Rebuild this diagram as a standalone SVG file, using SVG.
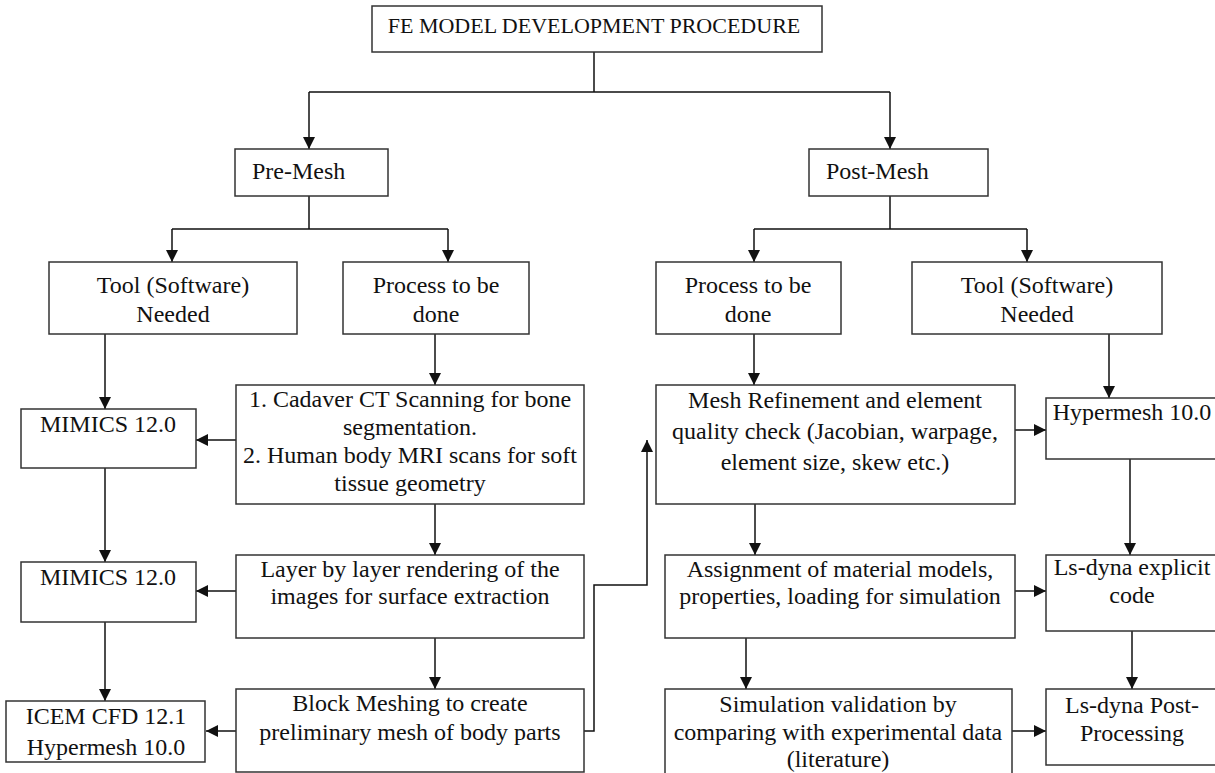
<svg xmlns="http://www.w3.org/2000/svg" width="1215" height="773" viewBox="0 0 1215 773">
<style>
.box{fill:#fff;stroke:#333;stroke-width:1.5}
.t{font-family:"Liberation Serif","Times New Roman",serif;font-size:24px;fill:#111;text-anchor:middle}
.ts{text-anchor:start}
.c{fill:none;stroke:#111;stroke-width:1.5}
.ca{fill:none;stroke:#111;stroke-width:1.5;marker-end:url(#ah)}
</style>
<defs>
<marker id="ah" markerUnits="userSpaceOnUse" markerWidth="12" markerHeight="14" viewBox="0 0 12 14" refX="12" refY="7" orient="auto">
<path d="M0,1 L12,7 L0,13 Z" fill="#111"/>
</marker>
</defs>
<rect width="1215" height="773" fill="#fff"/>
<g id="connectors">
<path class="c" d="M594,52 V92 M309,92 H890"/>
<path class="ca" d="M309,92 V149"/>
<path class="ca" d="M890,92 V149"/>
<path class="c" d="M309,196 V229 M172,229 H448"/>
<path class="ca" d="M172,229 V262"/>
<path class="ca" d="M448,229 V262"/>
<path class="c" d="M890,196 V229 M754,229 H1027"/>
<path class="ca" d="M754,229 V262"/>
<path class="ca" d="M1027,229 V262"/>
<path class="ca" d="M105,334 V409"/>
<path class="ca" d="M435,334 V385"/>
<path class="ca" d="M754,334 V385"/>
<path class="ca" d="M1109,334 V398"/>
<path class="ca" d="M236,440 H196"/>
<path class="ca" d="M105,468 V562"/>
<path class="ca" d="M435,504 V555"/>
<path class="ca" d="M236,591 H196"/>
<path class="ca" d="M105,622 V701"/>
<path class="ca" d="M435,638 V689"/>
<path class="ca" d="M236,731 H206"/>
<path class="ca" d="M584,731 H594 V585 H647 V440"/>
<path class="ca" d="M1015,430 H1046"/>
<path class="ca" d="M755,504 V555"/>
<path class="ca" d="M1130,459 V555"/>
<path class="ca" d="M1015,591 H1046"/>
<path class="ca" d="M746,638 V689"/>
<path class="ca" d="M1132,631 V689"/>
<path class="ca" d="M1012,731 H1046"/>
</g>
<g id="title"><rect class="box" x="372" y="6" width="450" height="46"/><text class="t" x="594" y="33" style="font-size:22px">FE MODEL DEVELOPMENT PROCEDURE</text></g>
<g id="premesh"><rect class="box" x="235" y="149" width="153" height="47"/><text class="t ts" x="252" y="179">Pre-Mesh</text></g>
<g id="postmesh"><rect class="box" x="809" y="149" width="179" height="47"/><text class="t ts" x="826" y="179">Post-Mesh</text></g>
<g id="tool-left"><rect class="box" x="49" y="262" width="248" height="72"/><text class="t" x="173" y="293">Tool (Software)</text><text class="t" x="173" y="322">Needed</text></g>
<g id="process-left"><rect class="box" x="343" y="262" width="186" height="72"/><text class="t" x="436" y="293">Process to be</text><text class="t" x="436" y="322">done</text></g>
<g id="process-right"><rect class="box" x="656" y="262" width="185" height="72"/><text class="t" x="748" y="293">Process to be</text><text class="t" x="748" y="322">done</text></g>
<g id="tool-right"><rect class="box" x="912" y="262" width="250" height="72"/><text class="t" x="1037" y="293">Tool (Software)</text><text class="t" x="1037" y="322">Needed</text></g>
<g id="mimics1"><rect class="box" x="21" y="409" width="175" height="59"/><text class="t" x="108" y="432">MIMICS 12.0</text></g>
<g id="cadaver"><rect class="box" x="236" y="385" width="348" height="119"/><text class="t" x="410" y="407">1. Cadaver CT Scanning for bone</text><text class="t" x="410" y="435">segmentation.</text><text class="t" x="410" y="463">2. Human body MRI scans for soft</text><text class="t" x="410" y="491">tissue geometry</text></g>
<g id="mimics2"><rect class="box" x="21" y="562" width="175" height="60"/><text class="t" x="108" y="585">MIMICS 12.0</text></g>
<g id="layer"><rect class="box" x="236" y="555" width="348" height="83"/><text class="t" x="410" y="577">Layer by layer rendering of the</text><text class="t" x="410" y="604">images for surface extraction</text></g>
<g id="icem"><rect class="box" x="6" y="701" width="199" height="61"/><text class="t" x="106" y="724">ICEM CFD 12.1</text><text class="t" x="106" y="755">Hypermesh 10.0</text></g>
<g id="block"><rect class="box" x="236" y="689" width="348" height="83"/><text class="t" x="410" y="711">Block Meshing to create</text><text class="t" x="410" y="740">preliminary mesh of body parts</text></g>
<g id="mesh-refine"><rect class="box" x="656" y="385" width="359" height="119"/><text class="t" x="835" y="408">Mesh Refinement and element</text><text class="t" x="835" y="439">quality check (Jacobian, warpage,</text><text class="t" x="835" y="470">element size, skew etc.)</text></g>
<g id="assignment"><rect class="box" x="665" y="555" width="350" height="83"/><text class="t" x="840" y="577">Assignment of material models,</text><text class="t" x="840" y="604">properties, loading for simulation</text></g>
<g id="simulation"><rect class="box" x="665" y="689" width="347" height="95"/><text class="t" x="838" y="712">Simulation validation by</text><text class="t" x="838" y="740">comparing with experimental data</text><text class="t" x="838" y="767">(literature)</text></g>
<g id="hypermesh"><rect class="box" x="1046" y="398" width="175" height="61"/><text class="t" x="1132" y="420">Hypermesh 10.0</text></g>
<g id="lsdyna"><rect class="box" x="1046" y="555" width="175" height="76"/><text class="t" x="1132" y="575">Ls-dyna explicit</text><text class="t" x="1132" y="603">code</text></g>
<g id="lsdyna-post"><rect class="box" x="1046" y="689" width="175" height="76"/><text class="t" x="1132" y="713">Ls-dyna Post-</text><text class="t" x="1132" y="741">Processing</text></g>
</svg>
